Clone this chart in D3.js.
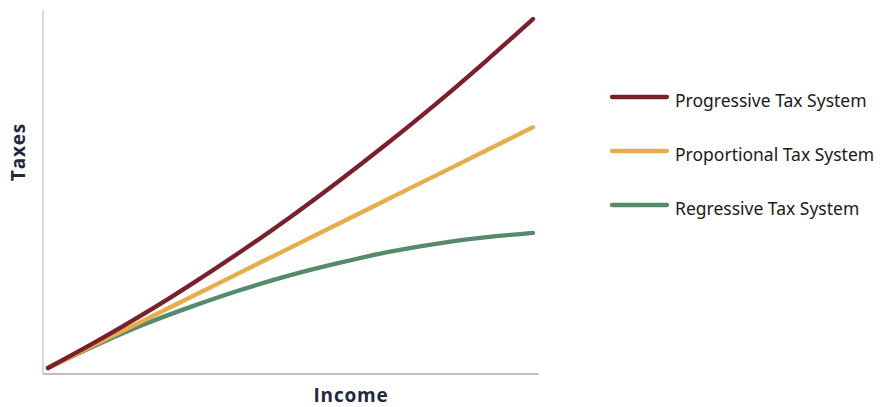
<!DOCTYPE html>
<html>
<head>
<meta charset="utf-8">
<script src="https://cdn.jsdelivr.net/npm/d3@7"></script>
<style>
html,body{margin:0;padding:0;background:#fff;}
svg{display:block;}
</style>
</head>
<body>
<svg id="chart" width="886" height="407"></svg>
<script>
const income = [0,1,2,3,4,5,6,7,8,9,10];
const progressive = [0,7.6,15.7,24.4,33.6,43.3,53.6,64.4,75.7,87.6,100];
const proportional = [0,6.9,13.8,20.7,27.6,34.5,41.4,48.3,55.2,62.1,69.0];
const regressive = [0,6.6,12.6,17.8,22.5,26.6,30.1,33.2,35.6,37.4,38.7];
const seriesNames = ["Progressive Tax System","Proportional Tax System","Regressive Tax System"];
const seriesColors = ["#7b1f2a","#e8ad4a","#558a6d"];
const seriesData = [progressive, proportional, regressive];

const svg = d3.select("#chart");
const x = d3.scaleLinear().domain([0,10]).range([48,533]);
const y = d3.scaleLinear().domain([0,100]).range([368,19]);

// axes frame
const xScaleFrame = d3.scaleLinear().domain([0,1]).range([42.5,538]);
const yScaleFrame = d3.scaleLinear().domain([0,1]).range([374,10]);
const gx = svg.append("g").attr("transform","translate(0,373.5)")
  .call(d3.axisBottom(xScaleFrame).ticks(0).tickSize(0).tickSizeOuter(0));
gx.select(".domain").attr("stroke","#a8a8a8").attr("stroke-width",1.5);
gx.selectAll("text").remove();
const gy = svg.append("g").attr("transform","translate(42.5,0)")
  .call(d3.axisLeft(yScaleFrame).ticks(0).tickSize(0).tickSizeOuter(0));
gy.select(".domain").attr("stroke","#cccccc").attr("stroke-width",1.5);
gy.selectAll("text").remove();

const line = d3.line()
  .x((d,i)=>x(income[i]))
  .y(d=>y(d))
  .curve(d3.curveMonotoneX);

[2,1,0].forEach(k=>{
  svg.append("path")
    .datum(seriesData[k])
    .attr("d",line)
    .attr("fill","none")
    .attr("stroke",seriesColors[k])
    .attr("stroke-width",4.3)
    .attr("stroke-linecap","round")
    .attr("stroke-linejoin","round");
});

// axis titles
svg.append("text")
  .attr("x",351).attr("y",402)
  .attr("text-anchor","middle")
  .attr("font-family","'Open Sans', sans-serif")
  .attr("font-weight","bold")
  .attr("font-size",19)
  .attr("letter-spacing",0.8)
  .attr("fill","#1e2a3f")
  .text("Income");
svg.append("text")
  .attr("transform","translate(25,152) rotate(-90)")
  .attr("text-anchor","middle")
  .attr("font-family","'Open Sans', sans-serif")
  .attr("font-weight","bold")
  .attr("font-size",19)
  .attr("letter-spacing",0.8)
  .attr("fill","#1e2a3f")
  .text("Taxes");

// legend
const legendY = [97,151,205];
seriesNames.forEach((name,i)=>{
  const g = svg.append("g");
  g.append("line")
    .attr("x1",612).attr("x2",667)
    .attr("y1",legendY[i]).attr("y2",legendY[i])
    .attr("stroke",seriesColors[i])
    .attr("stroke-width",4.3)
    .attr("stroke-linecap","round");
  g.append("text")
    .attr("x",675).attr("y",legendY[i] + 10)
    .attr("font-family","'Noto Sans', 'Open Sans', sans-serif")
    .attr("font-size",17.5)
    .attr("fill","#1a1a1a")
    .text(name);
});
</script>
</body>
</html>
